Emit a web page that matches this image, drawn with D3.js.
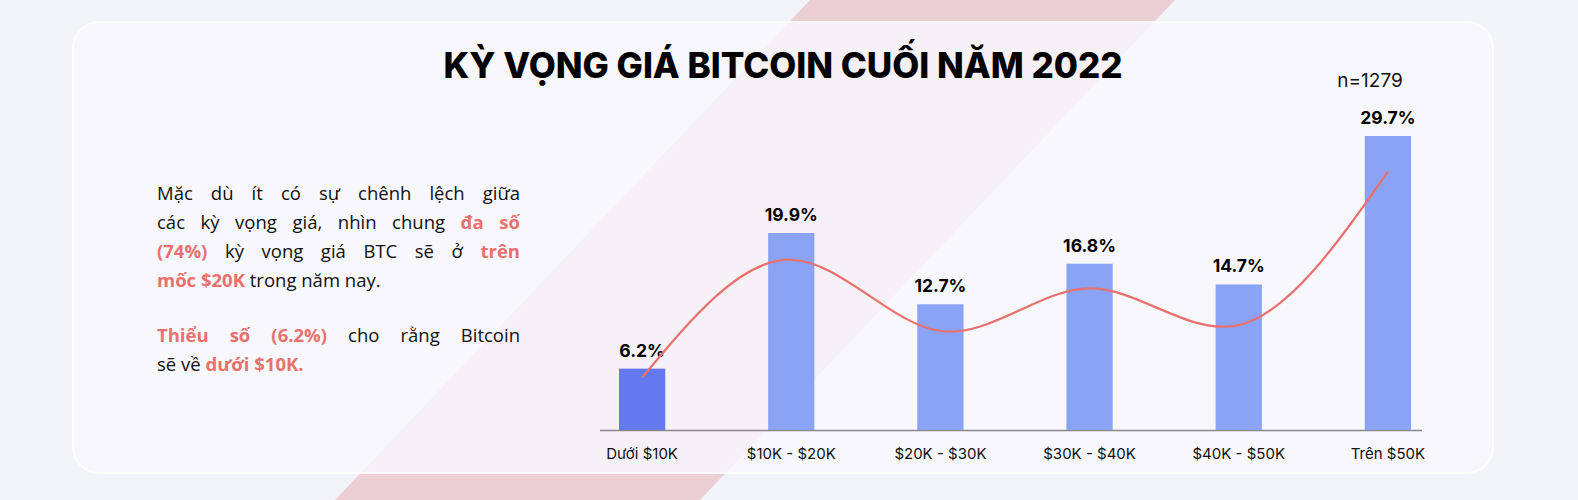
<!DOCTYPE html>
<html><head><meta charset="utf-8">
<script src="https://cdn.jsdelivr.net/npm/d3@7"></script>
<style>
body{margin:0;background:#f3f4fa;font-family:Inter,"Open Sans",sans-serif;}
#wrap{position:relative;width:1578px;height:500px;overflow:hidden;}
svg{position:absolute;left:0;top:0;}
.para{position:absolute;left:157px;width:363px;font-size:18.5px;line-height:29px;color:#111;font-family:"Open Sans",sans-serif;}
.l{text-align:justify;text-align-last:justify;}
.ll{text-align:left;}
.h{color:#e8716d;font-weight:700;}
</style></head><body>
<div id="wrap"></div>
<script>
const categories=["Dưới $10K","$10K - $20K","$20K - $30K","$30K - $40K","$40K - $50K","Trên $50K"];
const values=[6.2,19.9,12.7,16.8,14.7,29.7];
const trend=[5.3,17.2,10.0,14.3,10.6,26.1];
const labels=["6.2%","19.9%","12.7%","16.8%","14.7%","29.7%"];

const wrap=d3.select("#wrap");
const svg=wrap.append("svg").attr("width",1578).attr("height",500);
svg.append("polygon").attr("points","810,0 1175,0 700,500 335,500").attr("fill","#e9c6cc").attr("opacity",0.8);
svg.append("rect").attr("x",73).attr("y",22).attr("width",1420).attr("height",451).attr("rx",26)
 .attr("fill","#f8f8fd").attr("opacity",0.85).attr("stroke","#ffffff").attr("stroke-width",2);
svg.append("text").attr("x",783).attr("y",78).attr("text-anchor","middle")
 .attr("font-size",35).attr("font-weight",800).attr("fill","#000").text("KỲ VỌNG GIÁ BITCOIN CUỐI NĂM 2022");
svg.append("text").attr("x",1370).attr("y",87).attr("text-anchor","middle")
 .attr("font-size",19).attr("fill","#111").text("n=1279");

const x=d3.scaleBand().domain(categories).range([619,1411]).paddingInner(0.69).paddingOuter(0);
const y=d3.scaleLinear().domain([0,29.7]).range([430,136]);
svg.append("line").attr("x1",600).attr("x2",1422).attr("y1",430.5).attr("y2",430.5).attr("stroke","#888").attr("stroke-width",1.5);
svg.selectAll(".bar").data(values).join("rect")
 .attr("x",(d,i)=>x(categories[i])).attr("width",x.bandwidth())
 .attr("y",d=>y(d)).attr("height",d=>430-y(d))
 .attr("fill",(d,i)=>i===0?"#6479ee":"#8aa3f5");
svg.selectAll(".lbl").data(labels).join("text")
 .attr("x",(d,i)=>x(categories[i])+x.bandwidth()/2).attr("y",(d,i)=>y(values[i])-12)
 .attr("text-anchor","middle").attr("font-size",17.5).attr("font-weight",700).attr("fill","#000").text(d=>d);
svg.selectAll(".cat").data(categories).join("text")
 .attr("x",d=>x(d)+x.bandwidth()/2).attr("y",459).attr("text-anchor","middle")
 .attr("font-size",15).attr("fill","#111").text(d=>d);
const line=d3.line().x((d,i)=>x(categories[i])+x.bandwidth()/2).y(d=>y(d)).curve(d3.curveNatural);
svg.append("path").attr("d",line(trend)).attr("fill","none").attr("stroke","#e8716d").attr("stroke-width",2.2);

const p1=wrap.append("div").attr("class","para").style("top","178px");
p1.html('<div class="l">Mặc dù ít có sự chênh lệch giữa</div><div class="l">các kỳ vọng giá, nhìn chung <span class="h">đa số</span></div><div class="l"><span class="h">(74%)</span> kỳ vọng giá BTC sẽ ở <span class="h">trên</span></div><div class="ll"><span class="h">mốc $20K</span> trong năm nay.</div>');
const p2=wrap.append("div").attr("class","para").style("top","320px");
p2.html('<div class="l"><span class="h">Thiểu số (6.2%)</span> cho rằng Bitcoin</div><div class="ll">sẽ về <span class="h">dưới $10K.</span></div>');
</script></body></html>
